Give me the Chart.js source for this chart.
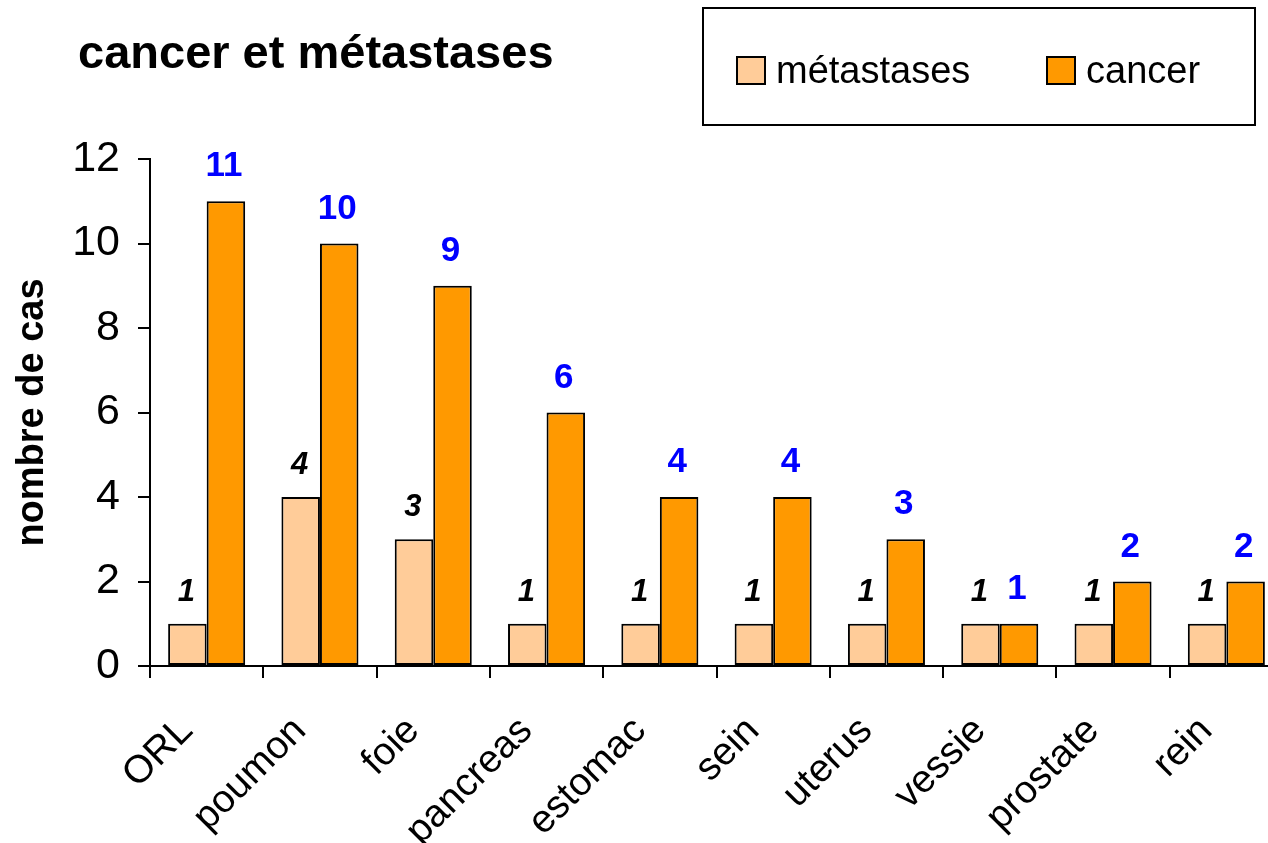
<!DOCTYPE html>
<html><head><meta charset="utf-8">
<script src="https://cdn.jsdelivr.net/npm/chart.js@4/dist/chart.umd.min.js"></script>
<style>html,body{margin:0;padding:0;overflow:hidden;background:#fff}
#wrap{position:relative;width:1283px;height:843px}</style></head>
<body><div id="wrap"><canvas id="c"></canvas></div>
<script>
const categories = ['ORL','poumon','foie','pancreas','estomac','sein','uterus','vessie','prostate','rein'];
const metastases = [1,4,3,1,1,1,1,1,1,1];
const cancer = [11,10,9,6,4,4,3,1,2,2];
const seriesNames = ['métastases','cancer'];
const yTicks = [0,2,4,6,8,10,12];
const chartTitle = 'cancer et métastases';
const yTitle = 'nombre de cas';

const FONT = 'Arial, "Liberation Sans", Helvetica, sans-serif';

const labelPlugin = {
  id: 'valueLabels',
  afterDatasetsDraw(chart) {
    const ctx = chart.ctx;
    ctx.save();
    ctx.textAlign = 'center';
    ctx.textBaseline = 'alphabetic';
    chart.data.datasets.forEach((ds, di) => {
      const meta = chart.getDatasetMeta(di);
      meta.data.forEach((bar, i) => {
        if (di === 0) {
          ctx.font = 'italic bold 31px ' + FONT;
          ctx.fillStyle = '#000000';
          ctx.fillText(String(ds.data[i]), bar.x - 1, bar.y - 23);
        } else {
          ctx.font = 'bold 35px ' + FONT;
          ctx.fillStyle = '#0000FF';
          ctx.fillText(String(ds.data[i]), bar.x - 2, bar.y - 25);
        }
      });
    });
    ctx.restore();
  }
};

const headerPlugin = {
  id: 'header',
  afterDraw(chart) {
    const ctx = chart.ctx;
    ctx.save();
    ctx.font = 'bold 47px ' + FONT;
    ctx.fillStyle = '#000';
    ctx.textAlign = 'left';
    ctx.textBaseline = 'alphabetic';
    ctx.fillText(chartTitle, 78, 68);
    ctx.lineWidth = 2;
    ctx.strokeStyle = '#000';
    ctx.fillStyle = '#fff';
    ctx.fillRect(703, 8, 552, 117);
    ctx.strokeRect(703, 8, 552, 117);
    ctx.font = '38px ' + FONT;
    const xs = [737, 1047];
    chart.data.datasets.forEach((ds, di) => {
      const x = xs[di];
      ctx.fillStyle = ds.backgroundColor;
      ctx.fillRect(x, 57, 28, 27);
      ctx.strokeStyle = '#000';
      ctx.lineWidth = 2;
      ctx.strokeRect(x, 57, 28, 27);
      ctx.fillStyle = '#000';
      ctx.fillText(ds.label, x + 39, 83);
    });
    ctx.restore();
  }
};

new Chart(document.getElementById('c'), {
  type: 'bar',
  data: {
    labels: categories,
    datasets: [
      { label: seriesNames[0], data: metastases, backgroundColor: '#FFCC99', borderColor: '#000', borderWidth: 2, borderSkipped: false },
      { label: seriesNames[1], data: cancer, backgroundColor: '#FF9900', borderColor: '#000', borderWidth: 2, borderSkipped: false }
    ]
  },
  options: {
    responsive: true,
    maintainAspectRatio: false,
    animation: false,
    layout: { padding: { top: 159, left: 0, right: 0, bottom: 0 } },
    datasets: { bar: { categoryPercentage: 0.68, barPercentage: 1.0 } },
    plugins: { legend: { display: false }, title: { display: false }, tooltip: { enabled: false } },
    scales: {
      x: {
        afterFit(s) { s.height = 177; s.paddingRight = 0; },
        grid: { display: true, drawOnChartArea: false, drawTicks: true, tickLength: 12, color: '#000', lineWidth: 2, offset: true },
        border: { display: true, color: '#000', width: 2 },
        ticks: { color: '#000', font: { family: FONT, size: 39 }, maxRotation: 45, minRotation: 45, padding: 30, labelOffset: -20, autoSkip: false }
      },
      y: {
        min: 0, max: 12,
        afterFit(s) { s.width = 150; },
        afterBuildTicks(s) { s.ticks = yTicks.map(v => ({ value: v })); },
        grid: { display: true, drawOnChartArea: false, drawTicks: true, tickLength: 12, color: '#000', lineWidth: 2 },
        border: { display: true, color: '#000', width: 2 },
        ticks: { color: '#000', font: { family: FONT, size: 43 }, padding: 18 },
        title: { display: true, text: yTitle, color: '#000', font: { family: FONT, size: 38, weight: 'bold' }, padding: { top: 10, bottom: 0 } }
      }
    }
  },
  plugins: [labelPlugin, headerPlugin]
});
</script></body></html>
